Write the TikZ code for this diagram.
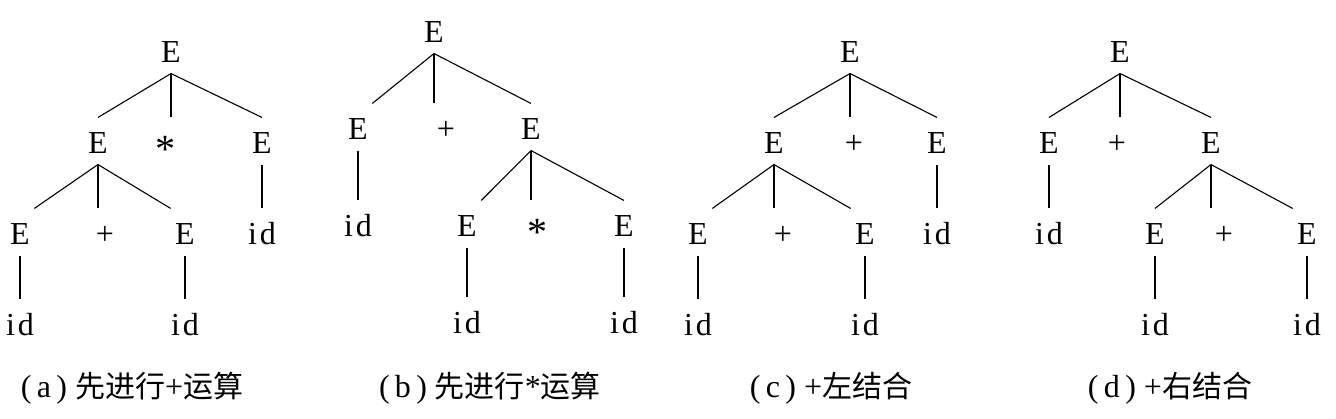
\documentclass[tikz,border=0pt]{standalone}
\usepackage{fontspec}
\setmainfont{Liberation Serif}
\newfontfamily\cjk{Noto Sans CJK SC}
\newcommand\zh[1]{{\cjk\fontsize{30}{36}\selectfont #1}}
\newcommand\idt{i\kern3pt d}
\newcommand\mulop{\raisebox{-9pt}{\fontsize{40}{40}\selectfont *}}
\begin{document}
\begin{tikzpicture}[x=1pt, y=-1pt, node distance=91pt, line width=1.1pt,
    main/.style = {font=\fontsize{32}{38}\selectfont, text height=32pt, text depth=6pt, inner sep=4pt},
    subcap/.style = {font=\fontsize{32}{38}\selectfont, anchor=base}]
    \useasboundingbox (0,0) rectangle (1336,419);

    \node[main] (a1) at (171,50) {E};
    \node[main] (a2) [below of=a1, xshift=-73pt] {E};
    \node[main] (a3) [below of=a1, xshift=-6pt] {\mulop};
    \node[main] (a4) [below of=a1, xshift=91pt] {E};
    \node[main] (a5) [below of=a2, xshift=-78pt] {E};
    \node[main] (a6) [below of=a2, xshift=7pt] {+};
    \node[main] (a7) [below of=a2, xshift=87pt] {E};
    \node[main] (a8) [below of=a4] {\idt};
    \node[main] (a9) [below of=a5] {\idt};
    \node[main] (a10) [below of=a7] {\idt};
    \node[subcap] (ca) at (132,398) {(\,a\,)\ \zh{先进行}+\zh{运算}};

    \draw (a1.south) -- (a2.north);
    \draw (a1.south) -- (a1.south |- a3.north);
    \draw (a1.south) -- (a4.north);
    \draw (a2.south) -- (a5.north east);
    \draw (a2.south) -- (a2.south |- a6.north);
    \draw (a2.south) -- (a7.north west);
    \draw (a4.south) -- (a8.north);
    \draw (a5.south) -- (a9.north);
    \draw (a7.south) -- (a10.north);

    \begin{scope}[node distance=97pt]
    \node[main] (b1) at (434,30) {E};
    \node[main] (b2) [below of=b1, xshift=-76pt] {E};
    \node[main] (b3) [below of=b1, xshift=12pt] {+};
    \node[main] (b4) [below of=b1, xshift=97pt] {E};
    \node[main] (b5) [below of=b2] {\idt};
    \node[main] (b6) [below of=b4, xshift=-64pt] {E};
    \node[main] (b7) [below of=b4, xshift=6pt] {\mulop};
    \node[main] (b8) [below of=b4, xshift=93pt] {E};
    \node[main] (b9) [below of=b6] {\idt};
    \node[main] (b10) [below of=b8] {\idt};
    \end{scope}
    \node[subcap] (cb) at (490,398) {(\,b\,)\ \zh{先进行}*\zh{运算}};

    \draw (b1.south) -- (b2.north east);
    \draw (b1.south) -- (b1.south |- b3.north);
    \draw (b1.south) -- (b4.north);
    \draw (b2.south) -- (b5.north);
    \draw (b4.south) -- (b6.north east);
    \draw (b4.south) -- (b4.south |- b7.north);
    \draw (b4.south) -- (b8.north);
    \draw (b6.south) -- (b9.north);
    \draw (b8.south) -- (b10.north);

    \node[main] (c1) at (850,50) {E};
    \node[main] (c2) [below of=c1, xshift=-76pt] {E};
    \node[main] (c3) [below of=c1, xshift=4pt] {+};
    \node[main] (c4) [below of=c1, xshift=87pt] {E};
    \node[main] (c5) [below of=c2, xshift=-76pt] {E};
    \node[main] (c6) [below of=c2, xshift=9pt] {+};
    \node[main] (c7) [below of=c2, xshift=91pt] {E};
    \node[main] (c8) [below of=c4] {\idt};
    \node[main] (c9) [below of=c5] {\idt};
    \node[main] (c10) [below of=c7] {\idt};
    \node[subcap] (cc) at (831,398) {(\,c\,)\ +\zh{左结合}};

    \draw (c1.south) -- (c2.north);
    \draw (c1.south) -- (c1.south |- c3.north);
    \draw (c1.south) -- (c4.north);
    \draw (c2.south) -- (c5.north east);
    \draw (c2.south) -- (c2.south |- c6.north);
    \draw (c2.south) -- (c7.north west);
    \draw (c4.south) -- (c8.north);
    \draw (c5.south) -- (c9.north);
    \draw (c7.south) -- (c10.north);

    \node[main] (d1) at (1120,50) {E};
    \node[main] (d2) [below of=d1, xshift=-71pt] {E};
    \node[main] (d3) [below of=d1, xshift=-3pt] {+};
    \node[main] (d4) [below of=d1, xshift=91pt] {E};
    \node[main] (d5) [below of=d2] {\idt};
    \node[main] (d6) [below of=d4, xshift=-56pt] {E};
    \node[main] (d7) [below of=d4, xshift=13pt] {+};
    \node[main] (d8) [below of=d4, xshift=96pt] {E};
    \node[main] (d9) [below of=d6] {\idt};
    \node[main] (d10) [below of=d8] {\idt};
    \node[subcap] (cd) at (1170,398) {(\,d\,)\ +\zh{右结合}};

    \draw (d1.south) -- (d2.north);
    \draw (d1.south) -- (d1.south |- d3.north);
    \draw (d1.south) -- (d4.north);
    \draw (d2.south) -- (d5.north);
    \draw (d4.south) -- (d6.north);
    \draw (d4.south) -- (d4.south |- d7.north);
    \draw (d4.south) -- (d8.north west);
    \draw (d6.south) -- (d9.north);
    \draw (d8.south) -- (d10.north);

\end{tikzpicture}
\end{document}
